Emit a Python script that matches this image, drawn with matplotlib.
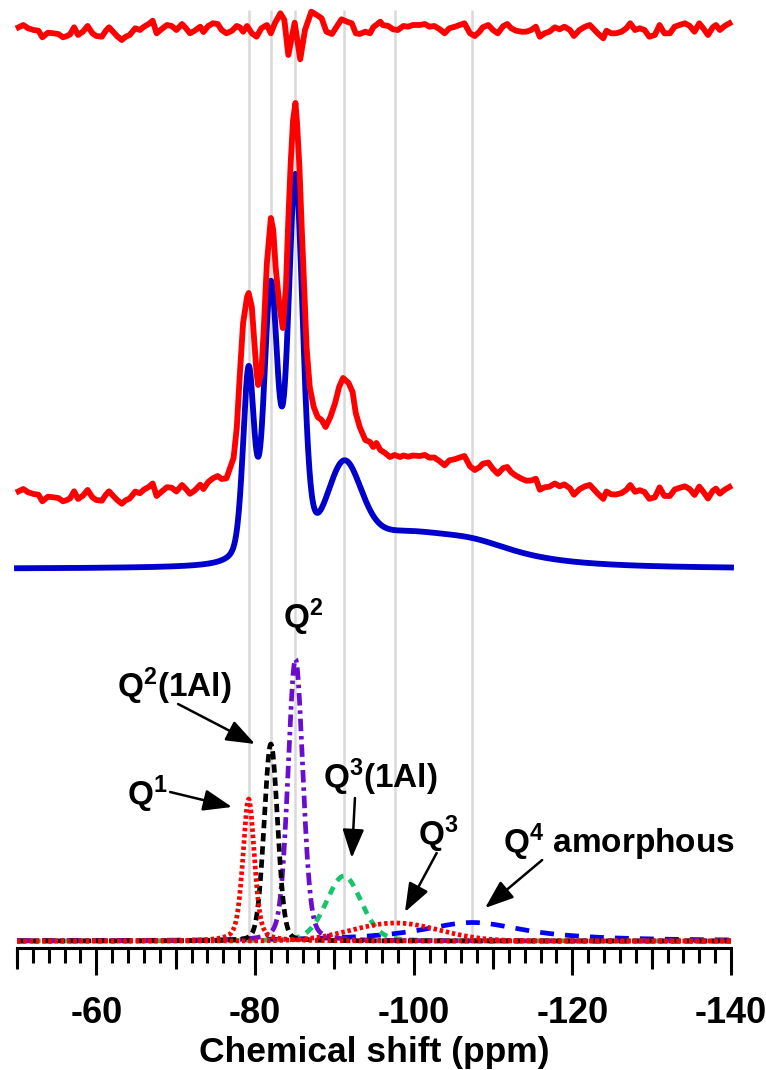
import numpy as np
import matplotlib.pyplot as plt
from matplotlib.ticker import MultipleLocator, FixedLocator

plt.rcParams['font.family'] = ['Liberation Sans', 'DejaVu Sans']
plt.rcParams['font.weight'] = 'bold'
plt.rcParams['mathtext.fontset'] = 'custom'
plt.rcParams['mathtext.bf'] = 'Liberation Sans:bold'
plt.rcParams['mathtext.rm'] = 'Liberation Sans:bold'
plt.rcParams['mathtext.default'] = 'bf'
plt.rcParams['axes.unicode_minus'] = False
plt.rcParams['lines.scale_dashes'] = False

# deconvolution components: centre (ppm), height, FWHM (ppm), Lorentzian fraction
labels = ['$Q^{1}$', '$Q^{2}$(1Al)', '$Q^{2}$', '$Q^{3}$(1Al)', '$Q^{3}$', '$Q^{4}$ amorphous']
centres = [-79.2, -82.0, -85.1, -91.2, -97.7, -107.4]
heights = [142, 197, 282, 65, 18, 18.5]
widths = [1.7, 2.0, 2.2, 5.2, 13.0, 16.0]
lor_frac = [0.4, 0.15, 0.25, 0.2, 0.0, 1.0]

# experimental spectrum
exp_ppm = [-50.2, -50.8, -51.4, -52.1, -52.7, -53.2, -53.9, -54.6, -55.2, -55.8,
           -56.3, -56.7, -57.2, -57.7, -58.3, -58.9, -59.5, -60.0, -60.7, -61.2,
           -61.6, -62.1, -62.6, -63.2, -63.7, -64.2, -64.9, -65.5, -66.0, -66.6,
           -67.1, -67.6, -68.2, -68.9, -69.5, -70.1, -70.8, -71.3, -71.8, -72.4,
           -73.1, -73.5, -74.1, -74.7, -75.3, -75.8, -76.4, -77.3, -77.7, -78.1,
           -78.5, -79.0, -79.2, -79.6, -79.9, -80.2, -80.4, -80.8, -81.1, -81.5,
           -81.9, -82.0, -82.3, -82.6, -83.1, -83.5, -83.9, -84.2, -84.5, -84.8,
           -85.1, -85.3, -85.6, -85.9, -86.2, -86.5, -86.9, -87.4, -87.9, -88.4,
           -88.9, -89.5, -90.1, -90.6, -91.1, -91.8, -92.3, -92.7, -93.2, -93.9,
           -94.5, -94.9, -95.3, -95.8, -96.4, -97.0, -97.6, -98.3, -98.7, -99.3,
           -99.9, -100.8, -101.4, -102.0, -102.6, -103.3, -103.9, -104.5, -105.2, -105.8,
           -106.4, -107.1, -107.7, -108.3, -108.7, -109.4, -110.0, -110.6, -111.3, -111.8,
           -112.3, -112.9, -113.6, -114.2, -114.8, -115.4, -115.9, -116.5, -117.1, -117.8,
           -118.4, -119.0, -119.7, -120.2, -120.9, -121.6, -122.2, -122.8, -123.2, -123.9,
           -124.3, -124.9, -125.5, -126.2, -126.8, -127.3, -127.9, -128.5, -129.1, -129.7,
           -130.4, -131.0, -131.6, -132.3, -132.9, -133.5, -134.2, -134.8, -135.4, -136.0,
           -136.5, -137.1, -137.7, -138.1, -138.6, -139.2, -139.8]
exp_val = [456.7, 459.0, 455.7, 454.0, 453.3, 446.7, 451.3, 450.7, 450.0, 446.7,
           448.0, 449.7, 456.7, 449.0, 452.3, 458.0, 450.7, 448.0, 447.3, 453.3,
           456.7, 452.3, 448.2, 444.3, 447.7, 449.5, 456.4, 454.8, 458.3, 461.1,
           464.5, 452.0, 456.2, 460.8, 460.3, 456.5, 463.0, 458.9, 454.2, 457.5,
           463.3, 459.0, 466.0, 469.7, 472.0, 469.0, 469.7, 490.0, 520.0, 575.0,
           625.0, 651.0, 655.0, 641.0, 608.0, 575.0, 563.0, 575.0, 618.0, 685.0,
           721.0, 730.0, 718.0, 681.0, 641.0, 620.0, 661.0, 728.0, 785.0, 828.0,
           845.0, 825.0, 781.0, 718.0, 661.0, 601.0, 561.0, 541.0, 531.0, 528.0,
           521.0, 531.0, 545.0, 561.0, 570.0, 565.0, 556.0, 535.0, 521.0, 508.0,
           506.0, 501.0, 505.0, 498.0, 495.0, 491.0, 493.0, 491.0, 492.5, 491.3,
           492.5, 492.0, 493.0, 490.3, 490.5, 486.7, 482.7, 487.7, 488.8, 490.5,
           492.0, 481.7, 478.0, 480.8, 484.2, 485.5, 479.0, 474.2, 480.0, 481.0,
           475.7, 472.3, 469.3, 467.3, 467.5, 469.3, 458.3, 460.7, 461.3, 464.5,
           461.7, 463.6, 459.7, 453.3, 458.8, 461.7, 463.1, 457.8, 454.4, 449.1,
           456.5, 453.7, 453.5, 454.9, 458.1, 463.0, 456.2, 457.8, 456.0, 449.2,
           450.7, 460.6, 452.1, 452.0, 458.5, 460.1, 461.7, 458.9, 453.1, 461.4,
           456.3, 449.5, 457.1, 459.4, 454.3, 458.3, 461.0]

# residual (experiment - fit)
res_ppm = [-50.2, -50.8, -51.4, -52.1, -52.7, -53.2, -53.9, -54.6, -55.2, -55.8,
           -56.3, -56.7, -57.2, -57.7, -58.3, -58.9, -59.5, -60.0, -60.7, -61.2,
           -61.6, -62.1, -62.6, -63.2, -63.7, -64.2, -64.9, -65.5, -66.0, -66.6,
           -67.1, -67.6, -68.2, -68.9, -69.5, -70.1, -70.8, -71.3, -71.8, -72.4,
           -73.1, -73.5, -74.1, -74.7, -75.3, -75.8, -76.4, -77.1, -77.7, -78.1,
           -78.5, -79.0, -79.6, -80.2, -80.8, -81.5, -82.0, -82.5, -83.2, -83.7,
           -84.2, -85.0, -85.7, -86.3, -87.1, -87.8, -88.4, -89.0, -89.7, -90.3,
           -90.9, -91.6, -92.2, -92.7, -93.2, -93.9, -94.5, -94.9, -95.8, -96.1,
           -96.8, -97.4, -98.0, -98.7, -99.3, -99.9, -100.8, -101.4, -102.0, -102.6,
           -103.3, -103.9, -104.5, -105.2, -105.8, -106.4, -107.1, -107.7, -108.3, -108.7,
           -109.4, -110.0, -110.6, -111.3, -111.8, -112.3, -112.9, -113.6, -114.2, -114.8,
           -115.4, -115.9, -116.5, -117.1, -117.8, -118.4, -119.0, -119.7, -120.2, -120.9,
           -121.6, -122.2, -122.8, -123.2, -123.9, -124.3, -124.9, -125.5, -126.2, -126.8,
           -127.3, -127.9, -128.5, -129.1, -129.7, -130.4, -131.0, -131.6, -132.3, -132.9,
           -133.5, -134.2, -134.8, -135.4, -136.0, -136.5, -137.1, -137.7, -138.1, -138.6,
           -139.2, -139.8]
res_val = [2.7, 5.0, 1.7, 0.0, -0.7, -7.3, -2.7, -3.3, -4.0, -7.3,
           -6.0, -4.3, 2.7, -5.0, -1.7, 4.0, -3.3, -6.0, -6.7, -0.7,
           2.7, -1.7, -6.0, -10.0, -6.7, -5.0, 1.7, 0.0, 3.3, 6.0,
           9.3, -3.3, 0.7, 5.0, 4.0, 0.0, 6.0, 1.7, -3.3, -0.7,
           3.3, -2.0, 4.0, 6.7, 6.0, 0.0, -3.3, -0.7, 4.0, 2.7,
           -1.7, 4.0, -3.3, -6.7, 1.7, 5.0, -3.3, 6.7, 16.7, 10.0,
           -25.0, 7.3, -29.3, 0.0, 18.3, 15.0, 11.7, -1.7, -4.0, 3.3,
           10.7, 8.3, 6.7, -3.3, -4.0, -1.7, -3.3, 2.7, 8.3, 5.0,
           4.0, 0.7, 0.0, 4.0, 3.3, 5.0, 5.0, 6.0, 3.3, 4.0,
           0.7, -3.3, 1.7, 3.3, 5.0, 6.7, -3.3, -6.0, -1.7, 2.7,
           5.0, 0.0, -3.3, 4.0, 6.0, 1.7, -0.7, -1.7, -1.7, 0.0,
           3.3, -6.7, -3.3, -1.7, 2.7, 0.7, 3.3, 0.0, -6.0, 0.0,
           3.3, 5.0, 0.0, -3.3, -8.3, -0.7, -3.3, -3.3, -1.7, 1.7,
           6.7, 0.0, 1.7, 0.0, -6.7, -5.0, 5.0, -3.3, -3.3, 3.3,
           5.0, 6.7, 4.0, -1.7, 6.7, 1.7, -5.0, 2.7, 5.0, 0.0,
           4.0, 6.7]

fit_scale = 1.35
comp_base, fit_base, res_base = 7, 379, 918

comp_style = [
    dict(color='#ff0000', dashes=(2.5, 2.0)),
    dict(color='#000000', dashes=(6.0, 3.5)),
    dict(color='#6a0dcf', dashes=(9.0, 3.5, 2.5, 3.5)),
    dict(color='#17c46b', dashes=(6.0, 5.0)),
    dict(color='#ff0000', dashes=(2.5, 2.0)),
    dict(color='#0000ff', dashes=(10.0, 8.0)),
]


def peak(x, c, h, w, eta):
    d = (x - c) / (w / 2.0)
    return h * (eta / (1 + d ** 2) + (1 - eta) * np.exp(-np.log(2) * d ** 2))


def total(x):
    return sum(peak(x, c, h, w, e) for c, h, w, e in zip(centres, heights, widths, lor_frac))


ppm = np.linspace(-50, -140, 1801)

fig = plt.figure(figsize=(7.66, 10.70), dpi=100)
ax = fig.add_axes([17 / 766, 122 / 1070, 714 / 766, 948 / 1070])

ax.vlines(centres, comp_base, 938, color='#d9d9d9', lw=1.8, zorder=0)

# components, broad ones first
for i in [5, 3, 2, 1, 0, 4]:
    c, h, w, e = centres[i], heights[i], widths[i], lor_frac[i]
    ax.plot(ppm, comp_base + peak(ppm, c, h, w, e), lw=3.4, clip_on=False,
            zorder=2, **comp_style[i])

# simulated spectrum, experiment, residual on top
ax.plot(ppm, fit_base + fit_scale * total(ppm), color='#0000cc', lw=4.2,
        solid_joinstyle='round', zorder=3, clip_on=False)
ax.plot(exp_ppm, exp_val, color='#ff0000', lw=4.2, solid_joinstyle='round',
        zorder=3, clip_on=False)
ax.plot(res_ppm, res_base + np.array(res_val), color='#ff0000', lw=4.2,
        solid_joinstyle='round', zorder=3, clip_on=False)

# peak labels and arrows
text_pos = [(-63.9, 143), (-62.6, 251), (-83.5, 320), (-88.6, 160), (-100.5, 103), (-111.3, 95)]
arrows = [((-69.3, 156), (-77.1, 141)), ((-70.3, 244), (-80.0, 204)), None,
          ((-92.6, 150), (-92.2, 90)), ((-102.9, 95), (-98.9, 36)), ((-116.2, 88), (-109.0, 40))]
for lab, (tx, ty), arr in zip(labels, text_pos, arrows):
    ax.text(tx, ty, lab, fontsize=24, ha='left', va='baseline')
    if arr is not None:
        ax.annotate('', xy=arr[1], xytext=arr[0],
                    arrowprops=dict(arrowstyle='-|>,head_length=0.8,head_width=0.3',
                                    mutation_scale=22, color='k', lw=1.8,
                                    shrinkA=0, shrinkB=0))

ax.set_xlim(-50, -140)
ax.set_ylim(0, 948)
for s in ['left', 'right', 'top']:
    ax.spines[s].set_visible(False)
ax.spines['bottom'].set_linewidth(2.2)
ax.set_yticks([])
ax.xaxis.set_major_locator(MultipleLocator(20))
ax.xaxis.set_minor_locator(MultipleLocator(2))
ax.tick_params(axis='x', which='major', length=19.5, width=2.2, pad=15, labelsize=26)
ax.tick_params(axis='x', which='minor', length=11, width=2.2)

sec = ax.secondary_xaxis('bottom')
sec.xaxis.set_major_locator(FixedLocator([-50, -70, -90, -110, -130]))
sec.tick_params(axis='x', length=15, width=2.2, labelbottom=False)
sec.spines['bottom'].set_visible(False)

ax.set_xlabel('Chemical shift (ppm)', fontsize=25.5, fontweight='bold', labelpad=4)

fig.savefig('out.png', dpi=100)
